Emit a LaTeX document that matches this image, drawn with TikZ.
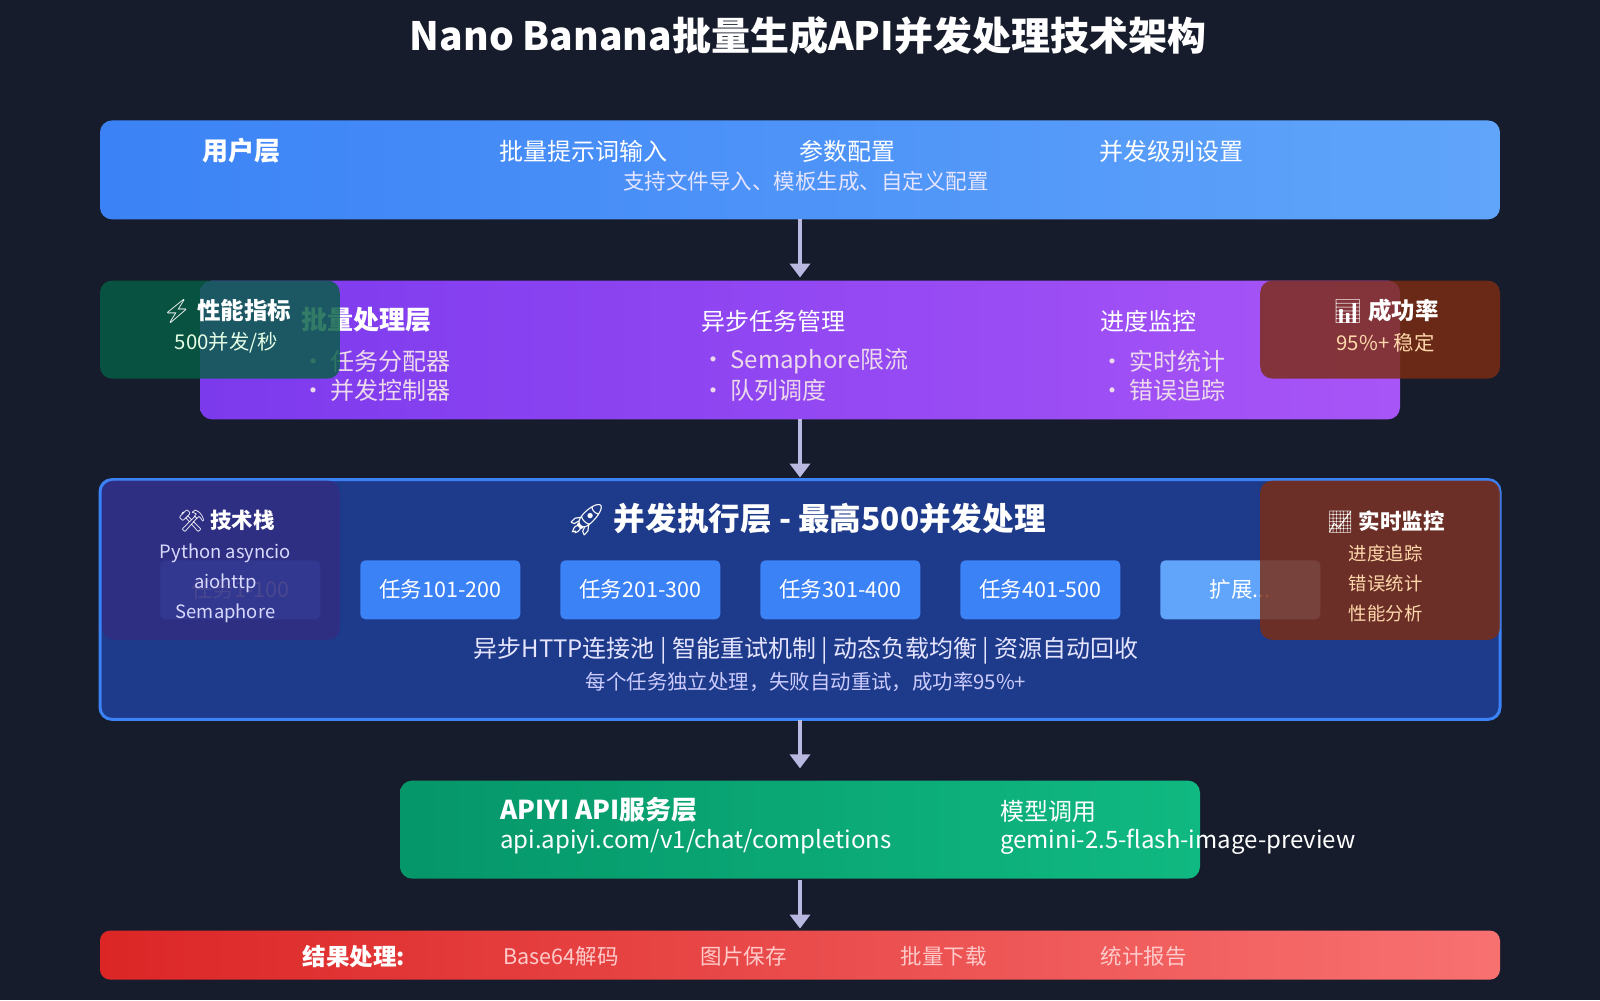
\documentclass[tikz,border=0pt]{standalone}
\usepackage{fontspec}
\usetikzlibrary{arrows.meta}
\setmainfont{Noto Sans CJK SC}
\newfontfamily\emo{Noto Emoji}
\definecolor{bg}{HTML}{161C2C}
\definecolor{perfg}{HTML}{065F46}
\definecolor{rust}{HTML}{7C2D12}
\definecolor{indig}{HTML}{312E81}
\definecolor{cream}{HTML}{FED7AA}
\begin{document}
\begin{tikzpicture}[x=1.0204pt,y=-1.0204pt,
  box/.style={rounded corners=12pt},
  txt/.style={text=white,font=\fontsize{24}{27}\selectfont,inner sep=0pt},
  btxt/.style={text=white,font=\fontsize{26}{29}\selectfont\bfseries,inner sep=0pt},
  stxt/.style={font=\fontsize{20.4}{23}\selectfont,inner sep=0pt},
  arr/.style={draw=gray!60!blue!40!white,line width=4pt,-{Triangle[length=14pt,width=20pt]}},
  task/.style={rounded corners=5pt,minimum width=160pt,minimum height=59pt,text=white,font=\fontsize{21.5}{24}\selectfont,inner sep=0pt}]
\fill[bg] (0,0) rectangle (1568,980);
\useasboundingbox (0,0) rectangle (1568,980);
\node[text=white,font=\fontsize{39}{42}\selectfont\bfseries,inner sep=0pt] (title) at (792,35) {Nano Banana批量生成API并发处理技术架构};
% user layer
\shade[box,left color={rgb,255:red,59;green,130;blue,246},right color={rgb,255:red,96;green,165;blue,250}] (98,118) rectangle (1470,215);
\coordinate (u) at (784,215);
\node[btxt] at (237,148) {用户层};
\node[txt] at (572,148) {批量提示词输入};
\node[txt] at (831,148) {参数配置};
\node[txt] at (1148,148) {并发级别设置};
\node[txt,text=white!90!blue,font=\fontsize{21.5}{24}\selectfont] at (790,178) {支持文件导入、模板生成、自定义配置};
% batch layer
\shade[box,left color={rgb,255:red,124;green,58;blue,237},right color={rgb,255:red,168;green,85;blue,247}] (196,275) rectangle (1372,411);
\coordinate (b1) at (784,272); \coordinate (b2) at (784,411);
\node[btxt,anchor=west] at (295,313) {批量处理层};
\node[txt,anchor=west,text=white!85!violet] at (295,354) {• 任务分配器};
\node[txt,anchor=west,text=white!85!violet] at (295,383) {• 并发控制器};
\node[txt,anchor=west] at (687,315) {异步任务管理};
\node[txt,anchor=west,text=white!85!violet] at (687,354) {• Semaphore限流};
\node[txt,anchor=west,text=white!85!violet] at (687,383) {• 队列调度};
\node[txt,anchor=west] at (1078,315) {进度监控};
\node[txt,anchor=west,text=white!85!violet] at (1078,354) {• 实时统计};
\node[txt,anchor=west,text=white!85!violet] at (1078,383) {• 错误追踪};
\fill[box,fill=perfg,fill opacity=0.82] (98,275) rectangle (333,371);
\node[btxt,font=\fontsize{23.5}{26}\selectfont\bfseries] at (222,305) {{\emo ⚡} 性能指标};
\node[stxt,text=green!10!white] at (222,336) {500并发/秒};
\fill[box,fill=rust,fill opacity=0.82] (1235,275) rectangle (1470,371);
\node[btxt,font=\fontsize{23.5}{26}\selectfont\bfseries] at (1358,305) {{\emo 📊} 成功率};
\node[stxt,text=cream] at (1358,336) {95\%+ 稳定};
% concurrent layer
\draw[box,fill={rgb,255:red,30;green,58;blue,138},draw={rgb,255:red,59;green,130;blue,246},line width=3pt] (98,470) rectangle (1470,705);
\coordinate (c1) at (784,468); \coordinate (c2) at (784,706);
\node[btxt,font=\fontsize{31.6}{35}\selectfont\bfseries] at (790,509) {{\emo 🚀} 并发执行层 - 最高500并发处理};
\foreach \x/\t in {157/任务1-100,353/任务101-200,549/任务201-300,745/任务301-400,941/任务401-500}
  \node[task,fill={rgb,255:red,59;green,130;blue,246}] at (\x+78.5,578) {\t};
\node[task,fill={rgb,255:red,96;green,165;blue,250}] at (1215.5,578) {扩展...};
\node[txt,text=white!90!blue] at (790,638) {异步HTTP连接池 | 智能重试机制 | 动态负载均衡 | 资源自动回收};
\node[stxt,text=white!80!blue] at (790,668) {每个任务独立处理，失败自动重试，成功率95\%+};
\fill[box,fill=indig,fill opacity=0.88] (100,471) rectangle (333,627);
\node[btxt,font=\fontsize{21.5}{24}\selectfont\bfseries] at (222,511) {{\emo ⚒} 技术栈};
\node[stxt,text=white!85!blue,font=\fontsize{18.4}{20}\selectfont] at (221,542) {Python asyncio};
\node[stxt,text=white!85!blue,font=\fontsize{18.4}{20}\selectfont] at (221,572) {aiohttp};
\node[stxt,text=white!85!blue,font=\fontsize{18.4}{20}\selectfont] at (221,601) {Semaphore};
\fill[box,fill=rust,fill opacity=0.82] (1235,471) rectangle (1470,627);
\node[btxt,font=\fontsize{21.5}{24}\selectfont\bfseries] at (1358,511) {{\emo 📈} 实时监控};
\node[stxt,font=\fontsize{18.4}{20}\selectfont,text=cream] at (1358,542) {进度追踪};
\node[stxt,font=\fontsize{18.4}{20}\selectfont,text=cream] at (1358,572) {错误统计};
\node[stxt,font=\fontsize{18.4}{20}\selectfont,text=cream] at (1358,601) {性能分析};
% API layer
\shade[box,left color={rgb,255:red,5;green,150;blue,105},right color={rgb,255:red,16;green,185;blue,129}] (392,765) rectangle (1176,861);
\coordinate (a1) at (784,753); \coordinate (a2) at (784,862);
\node[btxt,anchor=west] at (490,794) {APIYI API服务层};
\node[txt,anchor=west] at (490,825) {api.apiyi.com/v1/chat/completions};
\node[txt,anchor=west] at (980,795) {模型调用};
\node[txt,anchor=west] at (980,825) {gemini-2.5-flash-image-preview};
% result layer
\shade[rounded corners=10pt,left color={rgb,255:red,220;green,38;blue,38},right color={rgb,255:red,248;green,113;blue,113}] (98,912) rectangle (1470,960);
\coordinate (r1) at (784,910);
\node[btxt,font=\fontsize{23.5}{26}\selectfont\bfseries] at (347,937) {结果处理:};
\foreach \x/\t in {550/Base64解码,729/图片保存,925/批量下载,1121/统计报告}
  \node[txt,font=\fontsize{21.5}{24}\selectfont,text={rgb,255:red,254;green,202;blue,202}] at (\x,937) {\t};
% arrows
\draw[arr] (u) -- (b1);
\draw[arr] (b2) -- (c1);
\draw[arr] (c2) -- (a1);
\draw[arr] (a2) -- (r1);
\end{tikzpicture}
\end{document}
